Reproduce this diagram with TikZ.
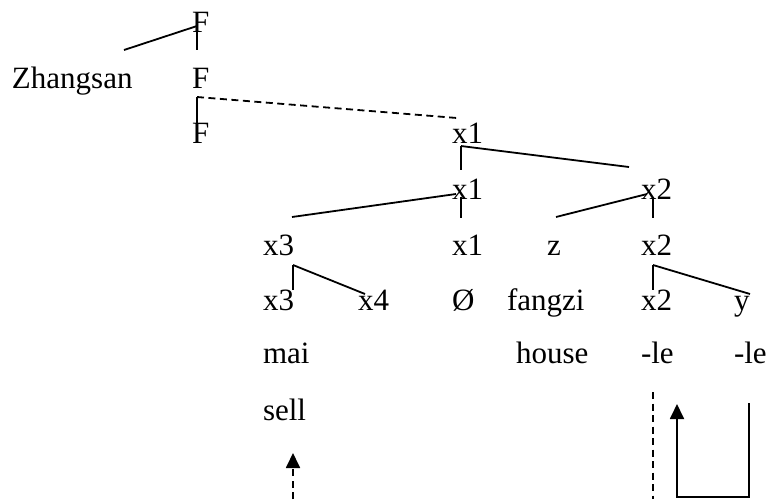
\documentclass[tikz,border=0pt]{standalone}
\usepackage{fontspec}
\setmainfont{Liberation Serif}
\usetikzlibrary{arrows.meta}
\begin{document}
\begin{tikzpicture}[x=1pt,y=-1pt,
  lbl/.style={anchor=base west,inner sep=0pt,outer sep=0pt,font=\fontsize{31}{37}\selectfont},
  ln/.style={line width=1.8pt},
  dl/.style={line width=1.8pt,dash pattern=on 7pt off 4.5pt},
  tip/.style={-{Triangle[width=14pt,length=15pt]}}]
\useasboundingbox (0,0) rectangle (769,499);
% nodes
\node[lbl] (F1) at (192,32) {F};
\node[lbl] (Zh) at (12,88) {Zhangsan};
\node[lbl] (F2) at (192,88) {F};
\node[lbl] (F3) at (192,143) {F};
\node[lbl] (x1a) at (452,143) {x1};
\node[lbl] (x1b) at (452,199) {x1};
\node[lbl] (x2a) at (641,199) {x2};
\node[lbl] (x3a) at (263,255) {x3};
\node[lbl] (x1c) at (452,255) {x1};
\node[lbl] (z) at (547,255) {z};
\node[lbl] (x2b) at (641,255) {x2};
\node[lbl] (x3b) at (263,310) {x3};
\node[lbl] (x4) at (358,310) {x4};
\node[lbl] (O) at (452,310) {Ø};
\node[lbl] (fz) at (507,310) {fangzi};
\node[lbl] (x2c) at (641,310) {x2};
\node[lbl] (yy) at (734,310) {y};
\node[lbl] (mai) at (263,363) {mai};
\node[lbl] (house) at (516,363) {house};
\node[lbl] (le1) at (641,363) {-le};
\node[lbl] (le2) at (734,363) {-le};
\node[lbl] (sell) at (263,420) {sell};
% connector points
\coordinate (a1) at (124,50); \coordinate (a2) at (197,26);
\coordinate (a3) at (197,28); \coordinate (a4) at (197,50);
\coordinate (b1) at (197,97); \coordinate (b2) at (457,118); \coordinate (b3) at (197,130);
\coordinate (c1) at (461,146); \coordinate (c2) at (461,170); \coordinate (c3) at (629,167);
\coordinate (d1) at (292,217); \coordinate (d2) at (456,194);
\coordinate (d3) at (461,197); \coordinate (d4) at (461,218);
\coordinate (e1) at (556,217); \coordinate (e2) at (647,194);
\coordinate (e3) at (653,197); \coordinate (e4) at (653,218);
\coordinate (f1) at (293,265); \coordinate (f2) at (293,290); \coordinate (f3) at (365,294);
\coordinate (g1) at (653,265); \coordinate (g2) at (653,290); \coordinate (g3) at (750,294);
\coordinate (h1) at (293,499); \coordinate (h2) at (293,453);
\coordinate (i1) at (653,392); \coordinate (i2) at (653,499);
\coordinate (j1) at (749,403); \coordinate (j2) at (749,497); \coordinate (j3) at (677,497); \coordinate (j4) at (677,404);
% lines
\draw[ln] (a1) -- (a2);
\draw[ln] (a3) -- (a4);
\draw[dl] (b1) -- (b2);
\draw[ln] (b1) -- (b3);
\draw[ln] (c1) -- (c2);
\draw[ln] (c1) -- (c3);
\draw[ln] (d1) -- (d2);
\draw[ln] (d3) -- (d4);
\draw[ln] (e1) -- (e2);
\draw[ln] (e3) -- (e4);
\draw[ln] (f1) -- (f2);
\draw[ln] (f1) -- (f3);
\draw[ln] (g1) -- (g2);
\draw[ln] (g1) -- (g3);
\draw[dl,tip] (h1) -- (h2);
\draw[dl] (i1) -- (i2);
\draw[ln,tip] (j1) -- (j2) -- (j3) -- (j4);
\end{tikzpicture}
\end{document}
